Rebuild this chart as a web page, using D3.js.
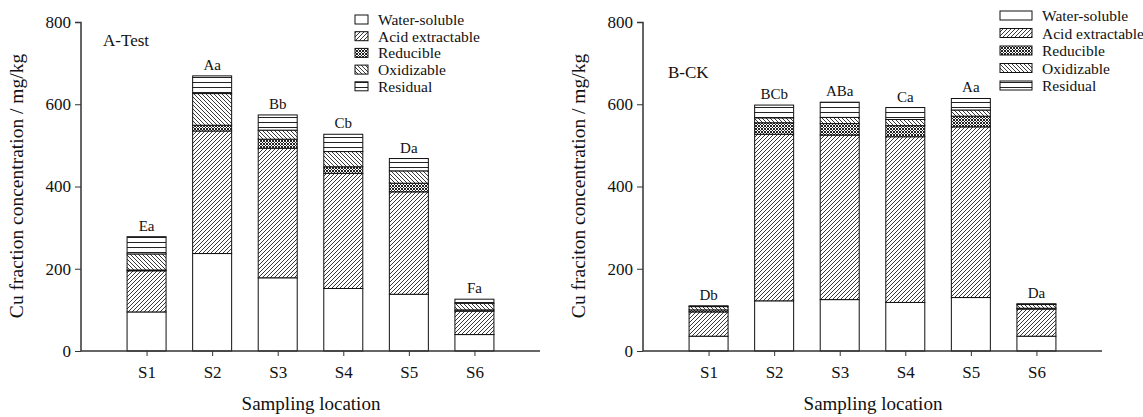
<html>
<head>
  <title>Cu fractions</title>
  <script src="https://d3js.org/d3.v7.min.js"></script>
  <style>
    body { margin: 0; background: #fff; }
    text { font-family: "Liberation Serif", "DejaVu Serif", serif; fill: #111; }
  </style>
</head>
<body>
<div class="chart"></div>
<script>
var width = 1143,
    height = 417;

var sites = ["S1", "S2", "S3", "S4", "S5", "S6"];
var fractions = ["Water-soluble", "Acid extractable", "Reducible", "Oxidizable", "Residual"];

// panel A - Test
var waterA    = [95, 237, 178, 152, 138, 40];
var acidA     = [100, 298, 315, 280, 249, 57];
var reducA    = [2, 14, 22, 16, 21, 3];
var oxidA     = [39, 77, 22, 37, 30, 16];
var residualA = [42, 43, 37, 42, 30, 10];
var lettersA  = ["Ea", "Aa", "Bb", "Cb", "Da", "Fa"];

// panel B - CK
var waterB    = [36, 122, 125, 118, 130, 36];
var acidB     = [59, 405, 400, 403, 415, 66];
var reducB    = [5, 28, 28, 27, 26, 2];
var oxidB     = [8, 12, 15, 15, 15, 9];
var residualB = [2, 31, 37, 29, 28, 2];
var lettersB  = ["Db", "BCb", "ABa", "Ca", "Aa", "Da"];

var yTicks = [0, 200, 400, 600, 800];

var svg = d3.select(".chart").append("svg")
  .attr("width", width)
  .attr("height", height);

// hatch patterns
var defs = svg.append("defs");
function hatch(id, w, h, lines, sw) {
  var p = defs.append("pattern")
    .attr("id", id)
    .attr("patternUnits", "userSpaceOnUse")
    .attr("width", w).attr("height", h);
  p.append("rect").attr("width", w).attr("height", h).attr("fill", "#fff");
  lines.forEach(function (l) {
    p.append("path").attr("d", l).attr("stroke", "#222").attr("stroke-width", sw).attr("fill", "none");
  });
}
hatch("p0", 4, 4, [], 1);
hatch("p1", 4, 4, ["M-1,1 L1,-1 M0,4 L4,0 M3,5 L5,3"], 0.9);
hatch("p2", 3, 3, ["M-1,1 L1,-1 M0,3 L3,0 M2,4 L4,2", "M-1,2 L1,4 M0,0 L3,3 M2,-1 L4,1"], 1);
hatch("p3", 4, 4, ["M-1,3 L1,5 M0,0 L4,4 M3,-1 L5,1"], 0.9);
hatch("p4", 5, 5, ["M0,2.5 L5,2.5"], 1);
var fills = ["url(#p0)", "url(#p1)", "url(#p2)", "url(#p3)", "url(#p4)"];

function panel(x0, series, letters, label, labelPos, yTitle, legend) {
  var x = d3.scaleLinear().domain([0, 7]).range([x0, x0 + 459]);
  var y = d3.scaleLinear().domain([0, 800]).range([351, 22]);
  var g = svg.append("g");

  var rows = sites.map(function (s, i) {
    var r = { site: s, i: i };
    fractions.forEach(function (f, k) { r[f] = series[k][i]; });
    return r;
  });
  var stacked = d3.stack().keys(fractions)(rows);
  var bw = 39;

  g.selectAll("g.layer")
    .data(stacked)
    .enter().append("g")
    .attr("class", "layer")
    .attr("fill", function (d, k) { return fills[k]; })
    .selectAll("rect")
    .data(function (d) { return d; })
    .enter().append("rect")
    .attr("x", function (d, i) { return x(i + 1) - bw / 2; })
    .attr("y", function (d) { return y(d[1]); })
    .attr("width", bw)
    .attr("height", function (d) { return y(d[0]) - y(d[1]); })
    .attr("stroke", "#111")
    .attr("stroke-width", 1);

  var top = stacked[stacked.length - 1];
  g.selectAll("text.letter")
    .data(top)
    .enter().append("text")
    .attr("class", "letter")
    .attr("x", function (d, i) { return x(i + 1); })
    .attr("y", function (d) { return y(d[1]) - 6; })
    .attr("text-anchor", "middle")
    .style("font-size", "15px")
    .text(function (d, i) { return letters[i]; });

  // axes
  var yAxis = g.append("g")
    .attr("transform", "translate(" + x0 + ",0)")
    .call(d3.axisLeft(y).tickValues(yTicks).tickSize(6).tickPadding(4));
  var xAxis = g.append("g")
    .attr("transform", "translate(0,351)")
    .call(d3.axisBottom(x).tickValues([1, 2, 3, 4, 5, 6]).tickSize(5).tickPadding(10)
      .tickFormat(function (d) { return sites[d - 1]; }));
  [yAxis, xAxis].forEach(function (a) {
    a.attr("font-family", null);
    a.select(".domain").attr("stroke", "#333").attr("stroke-width", 1.5);
    a.selectAll(".tick line").attr("stroke", "#333");
    a.selectAll("text").style("font-size", "17px").style("font-family", "Liberation Serif").attr("fill", "#111");
  });
  xAxis.select(".domain").attr("d", "M" + x0 + ",0H" + (x0 + 459));
  yAxis.select(".domain").attr("d", "M-6,22.5H0V351");

  g.append("text")
    .attr("x", x0 + 230).attr("y", 410)
    .attr("text-anchor", "middle")
    .style("font-size", "19px")
    .text("Sampling location");

  g.append("text")
    .attr("transform", "translate(" + (x0 - 58) + ",186) rotate(-90)")
    .attr("text-anchor", "middle")
    .style("font-size", "19.5px")
    .text(yTitle);

  g.append("text")
    .attr("x", labelPos[0]).attr("y", labelPos[1])
    .style("font-size", "17px")
    .text(label);

  // legend
  var lg = g.append("g");
  fractions.forEach(function (f, k) {
    var yy = legend.y0 + k * legend.dy;
    lg.append("rect")
      .attr("x", legend.x).attr("y", yy - 5)
      .attr("width", legend.w).attr("height", 9)
      .attr("fill", fills[k]).attr("stroke", "#111").attr("stroke-width", 1);
    lg.append("text")
      .attr("x", legend.x + legend.w + 10).attr("y", yy + 5)
      .style("font-size", "15.5px")
      .text(f);
  });
}

panel(81, [waterA, acidA, reducA, oxidA, residualA], lettersA, "A-Test", [103, 46],
  "Cu fraction concentration / mg/kg", { x: 355, w: 13, y0: 20, dy: 16.7 });
panel(643, [waterB, acidB, reducB, oxidB, residualB], lettersB, "B-CK", [668, 78],
  "Cu fraciton concentration / mg/kg", { x: 1000, w: 32, y0: 16, dy: 17.5 });
</script>
</body>
</html>
